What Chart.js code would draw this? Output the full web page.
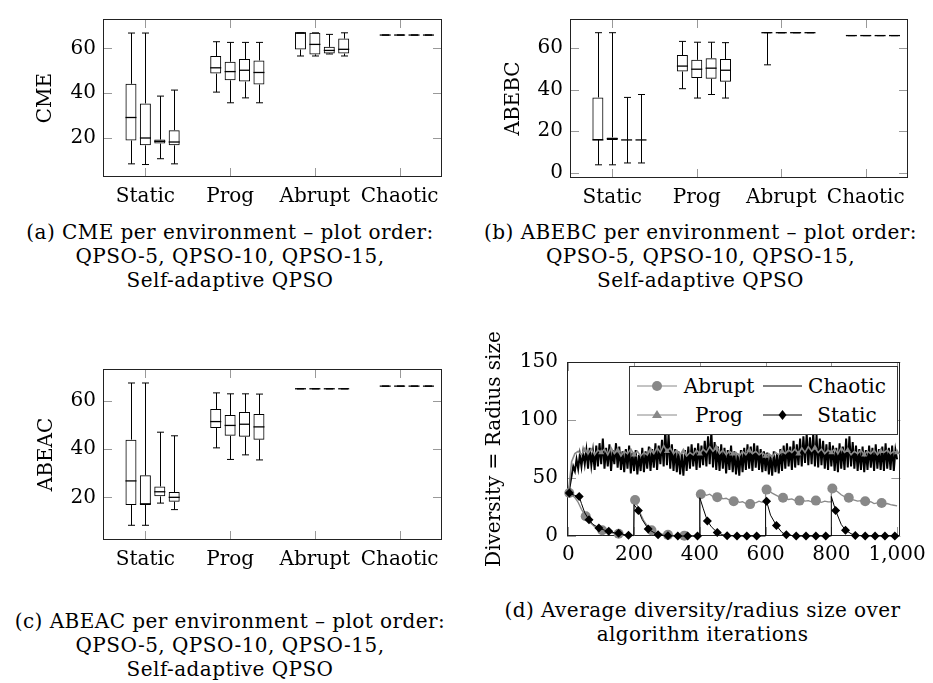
<!DOCTYPE html>
<html>
<head>
<meta charset="utf-8">
<script src="https://cdn.jsdelivr.net/npm/chart.js@4.4.0/dist/chart.umd.min.js"></script>
<style>
  body { margin: 0; background: #fff; width: 933px; height: 683px; position: relative; overflow: hidden; font-family: 'DejaVu Serif', serif; color: #000; }
  canvas { position: absolute; }
  .cap { position: absolute; text-align: center; font-size: 20px; letter-spacing: 0.45px; line-height: 24px; white-space: nowrap; }
  #legend { position: absolute; left: 629px; top: 366px; }
</style>
</head>
<body>
<canvas id="cme" width="460" height="215" style="left:0;top:0"></canvas>
<canvas id="abebc" width="473" height="215" style="left:460px;top:0"></canvas>
<canvas id="abeac" width="460" height="250" style="left:0;top:350px"></canvas>
<canvas id="div" width="473" height="250" style="left:460px;top:320px"></canvas>

<svg id="legend" width="270" height="70">
  <rect x="0.5" y="0.5" width="268" height="68" fill="#fff" stroke="#333"/>
  <line x1="8" y1="20" x2="48" y2="20" stroke="#888"/>
  <circle cx="28" cy="20" r="5" fill="#888"/>
  <text x="90" y="20" font-family="DejaVu Serif" font-size="20" text-anchor="middle" dominant-baseline="central">Abrupt</text>
  <line x1="134" y1="20" x2="173" y2="20" stroke="#000"/>
  <text x="218" y="20" font-family="DejaVu Serif" font-size="20" text-anchor="middle" dominant-baseline="central">Chaotic</text>
  <line x1="8" y1="49" x2="48" y2="49" stroke="#888"/>
  <polygon points="28,44 33,52 23,52" fill="#888"/>
  <text x="90" y="49" font-family="DejaVu Serif" font-size="20" text-anchor="middle" dominant-baseline="central">Prog</text>
  <line x1="134" y1="49" x2="173" y2="49" stroke="#000"/>
  <polygon points="153.5,44 157.5,49 153.5,54 149.5,49" fill="#000"/>
  <text x="218" y="49" font-family="DejaVu Serif" font-size="20" text-anchor="middle" dominant-baseline="central">Static</text>
</svg>

<div class="cap" style="left:0;width:460px;top:220px">(a) CME per environment – plot order:<br>QPSO-5, QPSO-10, QPSO-15,<br>Self-adaptive QPSO</div>
<div class="cap" style="left:470px;width:461px;top:220px">(b) ABEBC per environment – plot order:<br>QPSO-5, QPSO-10, QPSO-15,<br>Self-adaptive QPSO</div>
<div class="cap" style="left:0;width:460px;top:609px">(c) ABEAC per environment – plot order:<br>QPSO-5, QPSO-10, QPSO-15,<br>Self-adaptive QPSO</div>
<div class="cap" style="left:472px;width:461px;top:598px">(d) Average diversity/radius size over<br>algorithm iterations</div>

<script>
// box plot data, ordered by environment then algorithm
var categories = ['Static', 'Prog', 'Abrupt', 'Chaotic'];
var algorithms = ['QPSO-5', 'QPSO-10', 'QPSO-15', 'Self-adaptive QPSO'];
var boxTicks = [20, 40, 60];
var abebcTicks = [0, 20, 40, 60];

var cmeMin = [8.2, 7.9, 10.5, 8.2,  40.4, 35.6, 37.8, 35.6,  56.6, 56.6, 57.5, 56.6,  66, 66, 66, 66];
var cmeQ1  = [18.7, 16.5, 17.3, 16.5,  48.7, 45.7, 45.1, 43.8,  59.5, 57.3, 57.7, 57.7,  66, 66, 66, 66];
var cmeMed = [29, 19.8, 18.3, 18,  51.3, 49.6, 50.2, 49.2,  67, 61.8, 59.1, 59.6,  66, 66, 66, 66];
var cmeQ3  = [44.1, 35.3, 19.1, 23.3,  56.6, 54, 55.2, 54.6,  67, 67, 60.7, 64.4,  66, 66, 66, 66];
var cmeMax = [66.9, 66.9, 38.6, 41.3,  63, 62.7, 62.7, 62.7,  67, 67, 66.3, 67,  66, 66, 66, 66];

var abebcMin = [3.7, 3.7, 4.6, 4.6,  40.4, 35.9, 37.6, 35.9,  51.9, 67.4, 67.4, 67.4,  66, 66, 66, 66];
var abebcQ1  = [15.7, 15.7, 15.7, 15.7,  48.7, 45.6, 45.2, 43.8,  67.4, 67.4, 67.4, 67.4,  66, 66, 66, 66];
var abebcMed = [15.7, 16.3, 15.7, 15.7,  51.3, 49.8, 50.3, 49.3,  67.4, 67.4, 67.4, 67.4,  66, 66, 66, 66];
var abebcQ3  = [36.2, 16.9, 15.7, 15.7,  56.6, 54.3, 55.1, 54.7,  67.4, 67.4, 67.4, 67.4,  66, 66, 66, 66];
var abebcMax = [67.4, 67.4, 36.2, 37.6,  63.2, 62.8, 62.8, 62.6,  67.4, 67.4, 67.4, 67.4,  66, 66, 66, 66];

var abeacMin = [8.4, 8.4, 17.6, 14.9,  40.5, 35.7, 37.6, 35.5,  65, 65, 65, 65,  66.1, 66.1, 66.1, 66.1];
var abeacQ1  = [16.8, 16.8, 20.4, 18.2,  48.7, 45.5, 45.1, 43.9,  65, 65, 65, 65,  66.1, 66.1, 66.1, 66.1];
var abeacMed = [26.8, 17.3, 22.3, 20,  51.4, 49.8, 50.3, 49.2,  65, 65, 65, 65,  66.1, 66.1, 66.1, 66.1];
var abeacQ3  = [43.9, 29.1, 24.5, 22.2,  56.6, 54.1, 55.4, 54.5,  65, 65, 65, 65,  66.1, 66.1, 66.1, 66.1];
var abeacMax = [67.4, 67.4, 47, 45.5,  63.3, 62.9, 62.9, 62.8,  65, 65, 65, 65,  66.1, 66.1, 66.1, 66.1];

// diversity over iterations
var iterTicks = [0, 200, 400, 600, 800, 1000];
var divTicks = [0, 50, 100, 150];

var chaoticIter = [];
for (var it = 0; it <= 1000; it += 5) chaoticIter.push(it);
var chaoticDiv = [35, 44, 52, 60, 56, 66, 58, 70, 60, 72, 62,
  74, 58, 76, 61, 73, 57, 78, 60, 80, 62,
  84, 58, 76, 60, 79, 56, 74, 62, 80, 59,
  77, 57, 73, 55, 75, 58, 78, 54, 72, 56,
  74, 53, 70, 56, 76, 55, 73, 58, 77, 56,
  75, 59, 80, 57, 78, 62, 83, 60, 92, 61,
  88, 58, 79, 56, 75, 55, 73, 53, 71, 52,
  74, 56, 77, 58, 79, 60, 76, 57, 80, 59,
  78, 61, 82, 60, 86, 62, 90, 59, 81, 57,
  77, 56, 79, 58, 76, 54, 74, 57, 78, 55,
  73, 53, 71, 52, 74, 55, 76, 57, 79, 58,
  77, 56, 80, 59, 78, 57, 75, 55, 73, 56,
  72, 53, 70, 52, 73, 55, 71, 54, 75, 56,
  78, 58, 80, 60, 77, 57, 82, 59, 79, 61,
  84, 60, 86, 63, 88, 61, 85, 62, 89, 60,
  87, 59, 84, 61, 82, 58, 79, 57, 81, 60,
  78, 56, 76, 55, 80, 58, 77, 57, 84, 59,
  86, 60, 81, 58, 78, 56, 75, 57, 77, 55,
  74, 57, 78, 59, 76, 56, 79, 58, 75, 57,
  77, 56, 80, 58, 76, 57, 78, 56, 74, 66];

var progIter = [];
for (var ip = 0; ip <= 1000; ip += 10) progIter.push(ip);
var progDiv = [36, 64, 71, 73, 70, 74, 71, 75, 70, 74, 72,
  75, 70, 76, 71, 74, 69, 73, 71, 75, 70,
  73, 69, 72, 70, 74, 71, 76, 72, 78, 73,
  76, 71, 74, 70, 73, 69, 72, 70, 74, 71,
  75, 72, 77, 73, 76, 71, 74, 70, 73, 71,
  72, 69, 73, 70, 74, 71, 73, 70, 72, 69,
  71, 68, 72, 70, 73, 71, 74, 72, 75, 71,
  76, 72, 77, 73, 76, 72, 75, 71, 74, 72,
  75, 71, 76, 72, 74, 70, 73, 71, 74, 70,
  73, 71, 74, 70, 73, 72, 74, 71, 73, 72];

var abruptIter = [0, 3, 10, 20, 30, 40, 53, 65, 80, 90, 103, 115, 130, 140, 153, 165, 180, 199,
  200, 203, 210, 220, 230, 240, 253, 265, 280, 290, 303, 320, 340, 353, 370, 399,
  400, 403, 410, 420, 430, 440, 453, 460, 470, 480, 490, 503, 510, 520, 530, 540, 553, 560, 570, 580, 590, 599,
  600, 603, 610, 620, 630, 640, 653, 660, 670, 680, 690, 703, 710, 720, 730, 740, 753, 760, 770, 780, 790, 799,
  800, 803, 810, 820, 830, 840, 853, 860, 870, 880, 890, 903, 910, 920, 930, 940, 953, 960, 970, 980, 990, 1000];
var abruptDiv = [37, 37, 36, 33, 29, 23, 17, 12, 8, 6.5, 5, 3.8, 2.8, 2.2, 2, 1.3, 0.8, 0.5,
  31, 31, 26, 19, 13, 9, 5, 3, 1.8, 1.3, 1, 0.6, 0.4, 0.3, 0.2, 0.2,
  36, 36, 37, 35, 36, 34, 33.5, 34, 32, 32.5, 31, 30, 31, 29, 29.5, 28, 27.5, 29, 28.5, 30, 29, 30,
  40, 40, 39, 37, 35.5, 34, 33, 32.5, 31.5, 32, 30.5, 30.5, 31, 30, 30.5, 29.5, 30.5, 30, 29, 30, 29.5, 29.5,
  41, 41, 40, 38, 35.5, 34, 33, 31.5, 31, 30, 30.5, 30, 29, 29.5, 28, 28.5, 28.5, 27.5, 28, 27, 26.5, 26];

var staticIter = [0, 3, 10, 20, 33, 40, 50, 63, 75, 93, 110, 123, 140, 153, 170, 183, 199,
  200, 213, 225, 243, 260, 273, 290, 303, 333, 363, 393, 399,
  400, 410, 423, 435, 453, 470, 483, 513, 543, 573, 599,
  600, 603, 615, 633, 650, 663, 693, 723, 753, 783, 799,
  800, 813, 830, 843, 860, 873, 903, 933, 963, 993, 1000];
var staticDiv = [37, 37, 36, 35, 34, 28, 20, 14, 10, 7, 5, 4, 2.8, 2.3, 1.2, 0.6, 0.3,
  27, 22, 14, 6, 3, 1, 0.5, 0.2, 0, 0, 0, 0,
  33, 24, 13, 8, 3, 1, 0.3, 0, 0, 0, 0,
  31, 30, 18, 9, 3, 1, 0, 0, 0, 0, 0,
  34, 22, 10, 5, 2, 0.5, 0, 0, 0, 0, 0];

Chart.defaults.font.family = "'DejaVu Serif', serif";
Chart.defaults.font.size = 20;
Chart.defaults.color = '#000';
Chart.defaults.animation = false;
Chart.defaults.responsive = false;
Chart.defaults.plugins.legend.display = false;
Chart.defaults.plugins.tooltip.enabled = false;

// pgfplots style frame: full box + inward ticks on all sides
var framePlugin = {
    id: 'frame',
    beforeDatasetsDraw: function(chart) {
        var ctx = chart.ctx, a = chart.chartArea, sx = chart.scales.x, sy = chart.scales.y;
        var len = 9;
        ctx.save();
        ctx.strokeStyle = '#999';
        ctx.lineWidth = 1;
        ctx.beginPath();
        sx.ticks.forEach(function(t) {
            var px = Math.round(sx.getPixelForValue(t.value)) + 0.5;
            ctx.moveTo(px, a.bottom); ctx.lineTo(px, a.bottom - len);
            ctx.moveTo(px, a.top); ctx.lineTo(px, a.top + len);
        });
        sy.ticks.forEach(function(t) {
            var py = Math.round(sy.getPixelForValue(t.value)) + 0.5;
            ctx.moveTo(a.left, py); ctx.lineTo(a.left + len, py);
            ctx.moveTo(a.right, py); ctx.lineTo(a.right - len, py);
        });
        ctx.stroke();
        ctx.strokeStyle = '#222';
        ctx.strokeRect(Math.round(a.left) + 0.5, Math.round(a.top) + 0.5,
            Math.round(a.right - a.left) - 1, Math.round(a.bottom - a.top) - 1);
        ctx.restore();
    }
};

// whiskers and medians, drawn on top of the floating bars
var whiskerPlugin = {
    id: 'whiskers',
    afterDatasetsDraw: function(chart) {
        var ctx = chart.ctx, sy = chart.scales.y;
        ctx.save();
        ctx.strokeStyle = '#000';
        chart.data.datasets.forEach(function(ds, i) {
            chart.getDatasetMeta(i).data.forEach(function(bar, j) {
                var st = ds.stats[j];
                var x = Math.round(bar.x) + 0.5;
                var half = bar.width / 2;
                var yMax = sy.getPixelForValue(st.max), yMin = sy.getPixelForValue(st.min);
                var yQ1 = sy.getPixelForValue(ds.data[j].y[0]), yQ3 = sy.getPixelForValue(ds.data[j].y[1]);
                var yMed = sy.getPixelForValue(st.med);
                ctx.lineWidth = 1;
                ctx.beginPath();
                ctx.moveTo(x, yQ3); ctx.lineTo(x, yMax);
                ctx.moveTo(x - 3.5, yMax); ctx.lineTo(x + 3.5, yMax);
                ctx.moveTo(x, yQ1); ctx.lineTo(x, yMin);
                ctx.moveTo(x - 3.5, yMin); ctx.lineTo(x + 3.5, yMin);
                ctx.stroke();
                ctx.lineWidth = 1.3;
                ctx.beginPath();
                ctx.moveTo(bar.x - half, yMed); ctx.lineTo(bar.x + half, yMed);
                ctx.stroke();
            });
        });
        ctx.restore();
    }
};

var groupOffsets = [-0.17, 0, 0.17, 0.34];

function makeBoxChart(id, s, yMin, yMax, yTicks, yTitle, box) {
    var datasets = algorithms.map(function(name, a) {
        var idx = categories.map(function(c, i) { return i * algorithms.length + a; });
        return {
            label: name,
            data: idx.map(function(k, i) { return { x: i + 1 + groupOffsets[a], y: [s.q1[k], s.q3[k]] }; }),
            stats: idx.map(function(k) { return { min: s.min[k], med: s.med[k], max: s.max[k] }; }),
            backgroundColor: 'rgba(0,0,0,0)',
            borderColor: '#000',
            borderWidth: 1,
            borderSkipped: false,
            inflateAmount: 0,
            barThickness: 11,
            grouped: false
        };
    });
    new Chart(document.getElementById(id), {
        type: 'bar',
        data: { datasets: datasets },
        options: {
            layout: { padding: { top: box.top, right: box.right, left: 0, bottom: 0 } },
            scales: {
                x: {
                    type: 'linear', min: 0.5, max: 4.5, offset: false,
                    grid: { display: false, drawTicks: false }, border: { display: false },
                    afterBuildTicks: function(sc) { sc.ticks = categories.map(function(c, i) { return { value: i + 1 }; }); },
                    ticks: { callback: function(v) { return categories[Math.round(v) - 1]; }, padding: box.xPad, maxRotation: 0, autoSkip: false },
                    afterFit: function(sc) { sc.height = box.xH; }
                },
                y: {
                    min: yMin, max: yMax,
                    grid: { display: false, drawTicks: false }, border: { display: false },
                    afterBuildTicks: function(sc) { sc.ticks = yTicks.map(function(v) { return { value: v }; }); },
                    ticks: { padding: 7 },
                    title: { display: true, text: yTitle, padding: { top: box.titlePad, bottom: 0 } },
                    afterFit: function(sc) { sc.width = box.yW; }
                }
            }
        },
        plugins: [framePlugin, whiskerPlugin]
    });
}

makeBoxChart('cme', { min: cmeMin, q1: cmeQ1, med: cmeMed, q3: cmeQ3, max: cmeMax }, 2.3, 73.2, boxTicks, 'CME',
    { top: 4, right: 18, yW: 103, xH: 38, xPad: 8, titlePad: 34 });
makeBoxChart('abebc', { min: abebcMin, q1: abebcQ1, med: abebcMed, q3: abebcQ3, max: abebcMax }, -2.65, 74, abebcTicks, 'ABEBC',
    { top: 4, right: 25, yW: 110, xH: 37, xPad: 8, titlePad: 42 });
makeBoxChart('abeac', { min: abeacMin, q1: abeacQ1, med: abeacMed, q3: abeacQ3, max: abeacMax }, 2.3, 73.2, boxTicks, 'ABEAC',
    { top: 17, right: 18, yW: 103, xH: 60, xPad: 8, titlePad: 35 });

function pts(xs, ys) {
    return xs.map(function(x, i) { return { x: x, y: ys[i] }; });
}

new Chart(document.getElementById('div'), {
    type: 'line',
    data: {
        datasets: [{
            label: 'Static',
            data: pts(staticIter, staticDiv),
            borderColor: '#000', backgroundColor: '#000', borderWidth: 1,
            pointStyle: 'rectRot', pointBorderWidth: 0,
            pointRadius: function(c) { return c.raw && c.raw.x % 30 === 3 ? 4.5 : 0; },
            clip: false
        }, {
            label: 'Prog',
            data: pts(progIter, progDiv),
            borderColor: '#8a8a8a', backgroundColor: '#8a8a8a', borderWidth: 1.6,
            pointStyle: 'triangle', pointBorderWidth: 0,
            pointRadius: function(c) { return c.raw && c.raw.x > 0 && c.raw.x % 50 === 0 ? 3.5 : 0; },
            clip: false
        }, {
            label: 'Chaotic',
            data: pts(chaoticIter, chaoticDiv),
            borderColor: '#000', borderWidth: 2,
            pointRadius: 0,
            clip: false
        }, {
            label: 'Abrupt',
            data: pts(abruptIter, abruptDiv),
            borderColor: '#888', backgroundColor: '#888', borderWidth: 1.3,
            pointStyle: 'circle', pointBorderWidth: 0,
            pointRadius: function(c) { return c.raw && c.raw.x % 50 === 3 ? 5 : 0; },
            clip: false
        }]
    },
    options: {
        layout: { padding: { top: 42, right: 28, left: 0, bottom: 0 } },
        scales: {
            x: {
                type: 'linear', min: -4, max: 1010,
                grid: { display: false, drawTicks: false }, border: { display: false },
                afterBuildTicks: function(sc) { sc.ticks = iterTicks.map(function(v) { return { value: v }; }); },
                ticks: { callback: function(v) { return v.toLocaleString('en-US'); }, padding: 7, maxRotation: 0, autoSkip: false },
                afterFit: function(sc) { sc.height = 34; }
            },
            y: {
                min: 0, max: 150,
                grid: { display: false, drawTicks: false }, border: { display: false },
                afterBuildTicks: function(sc) { sc.ticks = divTicks.map(function(v) { return { value: v }; }); },
                ticks: { padding: 9 },
                title: { display: true, text: 'Diversity = Radius size', padding: { top: 23, bottom: 0 } },
                afterFit: function(sc) { sc.width = 107; }
            }
        }
    },
    plugins: [framePlugin]
});
</script>
</body>
</html>
